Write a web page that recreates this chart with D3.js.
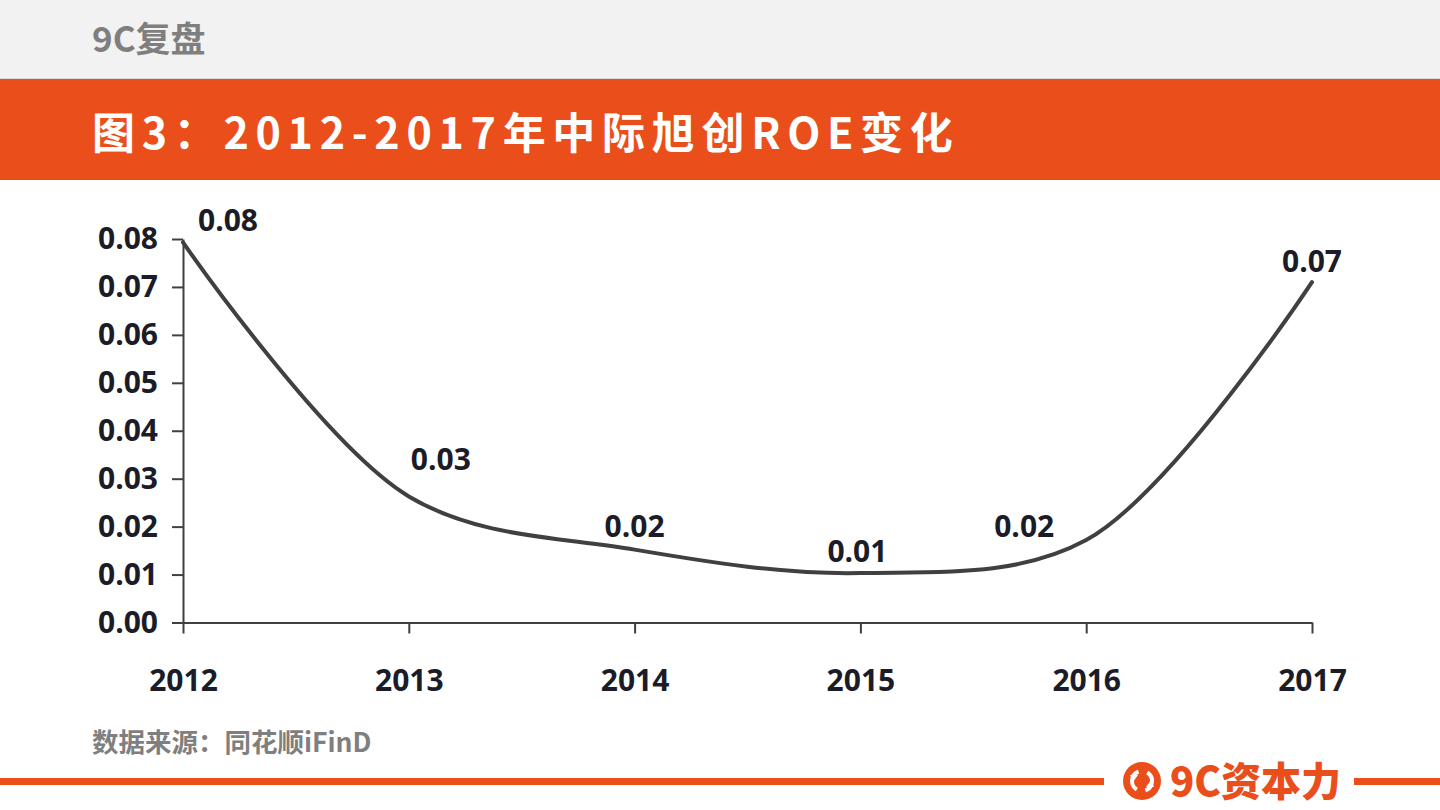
<!DOCTYPE html>
<html><head><meta charset="utf-8">
<script src="https://cdn.jsdelivr.net/npm/d3@7"></script>
<style>
html,body{margin:0;padding:0;background:#fff;}
svg{display:block;}
</style></head>
<body>
<svg id="c" width="1440" height="810"></svg>
<script>
const years = ["2012","2013","2014","2015","2016","2017"];
const roe = [0.0793, 0.0263, 0.0152, 0.0103, 0.0172, 0.0710];
const roeLabels = ["0.08","0.03","0.02","0.01","0.02","0.07"];
const yTicks = [0,0.01,0.02,0.03,0.04,0.05,0.06,0.07,0.08];
const labelDx = [45, 32, 0, -3, -62, 0];
const labelDy = [-22, -37, -23, -22, -14, -21];

const svg = d3.select("#c");
const ORANGE = "#E94E1B";
const CJK = "'Noto Sans CJK SC','Noto Sans',sans-serif";
const NUM = "'Open Sans','Noto Sans',sans-serif";
const INK = "#1c1c28";
const NUMSIZE = 30;

// header bands
svg.append("rect").attr("x",0).attr("y",0).attr("width",1440).attr("height",79).attr("fill","#f2f2f2");
svg.append("rect").attr("x",0).attr("y",78).attr("width",1440).attr("height",1).attr("fill","#d9d9d9");
svg.append("rect").attr("x",0).attr("y",79).attr("width",1440).attr("height",101).attr("fill",ORANGE);
svg.append("text").attr("x",92).attr("y",52).text("9C复盘")
  .attr("font-family",CJK).attr("font-weight",700).attr("font-size",35).attr("fill","#7f7f7f");
svg.append("text").attr("x",92).attr("y",149).text("图3：2012-2017年中际旭创ROE变化")
  .attr("font-family",CJK).attr("font-weight",700).attr("font-size",43)
  .attr("letter-spacing","6.7px").attr("fill","#fff");

// scales
const x = d3.scalePoint().domain(years).range([183,1312]);
const y = d3.scaleLinear().domain([0,0.08]).range([622.5,239]);

const g = svg.append("g");
const yAxis = d3.axisLeft(y).tickValues(yTicks).tickFormat(d3.format(".2f")).tickSize(11).tickSizeOuter(0).tickPadding(14);
const ya = g.append("g").attr("transform","translate(183,0)").call(yAxis);
const xAxis = d3.axisBottom(x).tickSize(11).tickSizeOuter(0).tickPadding(36);
const xa = g.append("g").attr("transform","translate(0,622.5)").call(xAxis);
[ya,xa].forEach(a=>{
  a.select(".domain").attr("stroke","#404040").attr("stroke-width",2);
  a.selectAll(".tick line").attr("stroke","#404040").attr("stroke-width",2);
  a.selectAll(".tick text").attr("font-family",NUM).attr("font-weight",700)
    .attr("font-size",NUMSIZE).attr("fill",INK);
});

// line
const line = d3.line().x((d,i)=>x(years[i])).y(d=>y(d)).curve(d3.curveCatmullRom.alpha(0.5));
g.append("path").datum(roe).attr("d",line).attr("fill","none")
  .attr("stroke","#404040").attr("stroke-width",4).attr("stroke-linecap","round");

// data labels
g.selectAll(".lbl").data(roe).enter().append("text")
  .attr("x",(d,i)=>x(years[i])+labelDx[i])
  .attr("y",(d,i)=>y(d)+labelDy[i])
  .attr("dy","0.36em").attr("text-anchor","middle")
  .attr("font-family",NUM).attr("font-weight",700).attr("font-size",NUMSIZE).attr("fill",INK)
  .text((d,i)=>roeLabels[i]);

// source
svg.append("text").attr("x",92).attr("y",752).text("数据来源：同花顺iFinD")
  .attr("font-family",CJK).attr("font-weight",700).attr("font-size",26.5).attr("fill","#7f7f7f");

// bottom rule + logo
svg.append("rect").attr("x",0).attr("y",778).attr("width",1104).attr("height",7).attr("fill",ORANGE);
svg.append("rect").attr("x",1354).attr("y",778).attr("width",86).attr("height",7).attr("fill",ORANGE);
const lg = svg.append("g").attr("transform","translate(1142,781)");
lg.append("circle").attr("r",19).attr("fill",ORANGE);
const arc = d3.arc().innerRadius(8).outerRadius(12);
lg.append("path").attr("d",arc({startAngle:-2.6,endAngle:-0.35})).attr("fill","#fff");
lg.append("path").attr("d",arc({startAngle:0.55,endAngle:2.8})).attr("fill","#fff");
lg.append("path").attr("d","M -12 -6 L -4 -6 L -9 1 Z").attr("fill","#fff");
lg.append("path").attr("d","M 12 6 L 4 6 L 9 -1 Z").attr("fill","#fff");
svg.append("text").attr("x",1170).attr("y",796).text("9C资本力")
  .attr("font-family",CJK).attr("font-weight",900).attr("font-size",40).attr("fill",ORANGE);
</script>
</body></html>
